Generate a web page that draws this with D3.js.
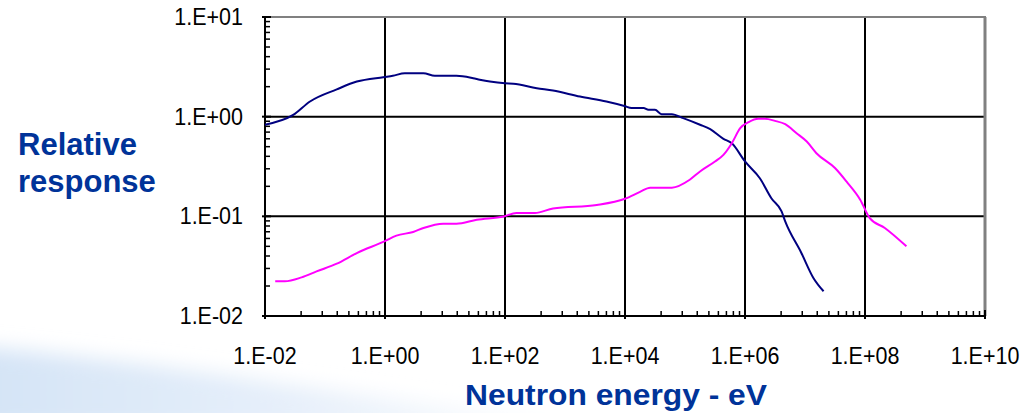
<!DOCTYPE html>
<html>
<head>
<meta charset="utf-8">
<script src="https://cdn.jsdelivr.net/npm/d3@7"></script>
<style>
html,body{margin:0;padding:0;background:#fff;}
svg{display:block;}
</style>
</head>
<body>
<svg id="chart" width="1035" height="413"></svg>
<script>
// ---- data ----
const blueEnergy = [1e-2, 0.0295, 0.0562, 0.157, 0.339, 0.933, 1.35, 2.14, 4.37, 6.76, 15.5, 29.5, 38, 56, 100, 138, 339, 631, 1780, 4900, 9770, 12900, 20400, 24500, 31600, 40700, 60300, 93300, 178000, 263000, 437000, 603000, 1e6, 1.78e6, 2.75e6, 4.07e6, 4.68e6, 8.7e6, 1.38e7, 2.04e7];
const blueResponse = [0.83, 1.04, 1.42, 1.88, 2.25, 2.49, 2.57, 2.73, 2.73, 2.57, 2.57, 2.43, 2.35, 2.25, 2.16, 2.14, 1.93, 1.83, 1.59, 1.42, 1.28, 1.22, 1.22, 1.17, 1.17, 1.06, 1.06, 0.966, 0.83, 0.75, 0.60, 0.54, 0.355, 0.24, 0.152, 0.112, 0.089, 0.0429, 0.0241, 0.0177];
const magentaEnergy = [0.0148, 0.0214, 0.0407, 0.0724, 0.157, 0.339, 0.977, 1.55, 2.95, 4.37, 9.33, 15.5, 33.9, 95.5, 155, 316, 631, 3390, 10000, 17800, 26300, 60300, 120000, 178000, 316000, 437000, 603000, 832000, 1.15e6, 1.66e6, 2.14e6, 3.16e6, 4.68e6, 7.24e6, 1.07e7, 1.55e7, 3.16e7, 4.9e7, 8.32e7, 1.2e8, 2.14e8, 4.9e8];
const magentaResponse = [0.0223, 0.0223, 0.0244, 0.028, 0.0335, 0.0428, 0.056, 0.064, 0.0697, 0.0764, 0.0844, 0.0844, 0.0925, 0.0998, 0.108, 0.108, 0.12, 0.13, 0.15, 0.176, 0.194, 0.194, 0.233, 0.282, 0.355, 0.414, 0.542, 0.767, 0.881, 0.951, 0.951, 0.908, 0.841, 0.683, 0.563, 0.43, 0.305, 0.224, 0.147, 0.096, 0.0764, 0.050];
const xTickValues = [1e-2, 1e0, 1e2, 1e4, 1e6, 1e8, 1e10];
const xTickLabels = ["1.E-02", "1.E+00", "1.E+02", "1.E+04", "1.E+06", "1.E+08", "1.E+10"];
const yTickValues = [1e1, 1e0, 1e-1, 1e-2];
const yTickLabels = ["1.E+01", "1.E+00", "1.E-01", "1.E-02"];
const xTitle = "Neutron energy - eV";
const yTitleLines = ["Relative", "response"];

// ---- layout ----
const L = 265, R = 985, T = 17, B = 316;
const svg = d3.select("#chart");
const x = d3.scaleLog().domain([1e-2, 1e10]).range([L, R]);
const y = d3.scaleLog().domain([1e-2, 1e1]).range([B, T]);

// background swoosh (slide background)
const defs = svg.append("defs");
const g1 = defs.append("linearGradient").attr("id", "bgGrad").attr("x1", "0").attr("y1", "0").attr("x2", "1").attr("y2", "0");
g1.append("stop").attr("offset", "0").attr("stop-color", "#d3e3f6");
g1.append("stop").attr("offset", "0.5").attr("stop-color", "#e6effa");
g1.append("stop").attr("offset", "1").attr("stop-color", "#ffffff");
defs.append("filter").attr("id", "soft").attr("x", "-20%").attr("y", "-50%").attr("width", "140%").attr("height", "200%")
  .append("feGaussianBlur").attr("stdDeviation", 10);
svg.append("path")
  .attr("d", "M-40,345 C120,358 300,385 600,430 L-40,430 Z")
  .attr("fill", "url(#bgGrad)").attr("filter", "url(#soft)");

// gridlines
const grid = svg.append("g");
grid.selectAll("line.h").data([1e0, 1e-1]).join("line")
  .attr("x1", L).attr("x2", R).attr("y1", d => y(d)).attr("y2", d => y(d))
  .attr("stroke", "#000").attr("stroke-width", 2);
grid.selectAll("line.v").data([1e0, 1e2, 1e4, 1e6, 1e8]).join("line")
  .attr("y1", T).attr("y2", B).attr("x1", d => x(d)).attr("x2", d => x(d))
  .attr("stroke", "#000").attr("stroke-width", 2);

// frame: top & right gray
svg.append("line").attr("x1", L).attr("x2", R + 1).attr("y1", T).attr("y2", T).attr("stroke", "#808080").attr("stroke-width", 2);
svg.append("line").attr("x1", R).attr("x2", R).attr("y1", T).attr("y2", B).attr("stroke", "#808080").attr("stroke-width", 3);

// x minor ticks: Excel base-100 style (k^2 within each 2-decade span)
const xMinor = [];
[-2, 0, 2, 4, 6, 8].forEach(p => { for (let k = 2; k <= 9; k++) xMinor.push(Math.pow(10, p) * k * k); });
svg.append("g").selectAll("line").data(xMinor).join("line")
  .attr("x1", d => x(d)).attr("x2", d => x(d)).attr("y1", B).attr("y2", B - 5)
  .attr("stroke", "#000").attr("stroke-width", 1.5);
svg.append("g").selectAll("line").data(xTickValues).join("line")
  .attr("x1", d => x(d)).attr("x2", d => x(d)).attr("y1", B - 6).attr("y2", B + 3)
  .attr("stroke", "#000").attr("stroke-width", 2);

// y minor ticks
const yMinor = [];
[-2, -1, 0].forEach(p => { for (let k = 2; k <= 9; k++) yMinor.push(Math.pow(10, p) * k); });
svg.append("g").selectAll("line").data(yMinor).join("line")
  .attr("x1", L).attr("x2", L + 5).attr("y1", d => y(d)).attr("y2", d => y(d))
  .attr("stroke", "#000").attr("stroke-width", 1.5);
svg.append("g").selectAll("line").data(yTickValues).join("line")
  .attr("x1", L - 3).attr("x2", L + 6).attr("y1", d => y(d)).attr("y2", d => y(d))
  .attr("stroke", "#000").attr("stroke-width", 2);

// axes lines
svg.append("line").attr("x1", L).attr("x2", L).attr("y1", T - 1).attr("y2", B + 1).attr("stroke", "#000").attr("stroke-width", 2);
svg.append("line").attr("x1", L - 1).attr("x2", R + 1).attr("y1", B).attr("y2", B).attr("stroke", "#000").attr("stroke-width", 2);

// curves
const line = d3.line().x(d => x(d[0])).y(d => y(d[1])).curve(d3.curveMonotoneX);
svg.append("path").datum(d3.zip(blueEnergy, blueResponse))
  .attr("d", line).attr("fill", "none").attr("stroke", "#000080").attr("stroke-width", 2);
svg.append("path").datum(d3.zip(magentaEnergy, magentaResponse))
  .attr("d", line).attr("fill", "none").attr("stroke", "#ff00ff").attr("stroke-width", 2);

// tick labels
const font = "'Liberation Sans', Arial, sans-serif";
svg.append("g").selectAll("text").data(yTickValues).join("text")
  .attr("transform", d => `translate(243,${y(d) + 8}) scale(1,1.12)`)
  .attr("text-anchor", "end").attr("font-family", font).attr("font-size", 21.5)
  .attr("fill", "#000").text((d, i) => yTickLabels[i]);
svg.append("g").selectAll("text").data(xTickValues).join("text")
  .attr("transform", d => `translate(${x(d)},364) scale(1,1.12)`)
  .attr("text-anchor", "middle").attr("font-family", font).attr("font-size", 21.5)
  .attr("fill", "#000").text((d, i) => xTickLabels[i]);

// titles
svg.append("text").attr("x", 465).attr("y", 405)
  .attr("textLength", 302).attr("lengthAdjust", "spacingAndGlyphs")
  .attr("font-family", font).attr("font-weight", "bold").attr("font-size", 30)
  .attr("fill", "#003399").text(xTitle);
svg.append("g").selectAll("text").data(yTitleLines).join("text")
  .attr("x", 18).attr("y", (d, i) => 155 + i * 37)
  .attr("font-family", font).attr("font-weight", "bold").attr("font-size", 31)
  .attr("fill", "#003399").text(d => d);
</script>
</body>
</html>
